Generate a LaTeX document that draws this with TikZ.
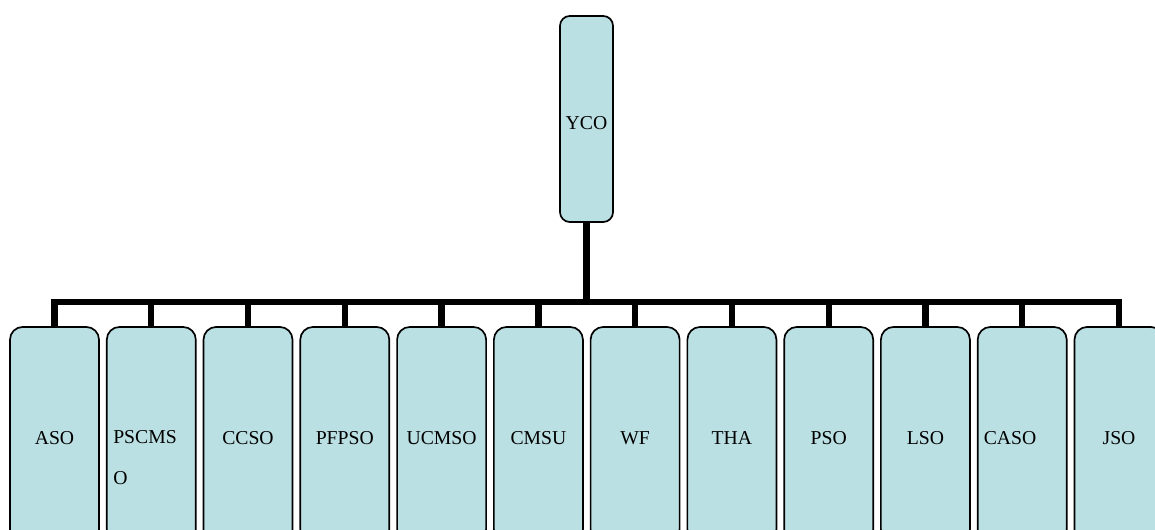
\documentclass[tikz,border=0pt]{standalone}
\usepackage{fontspec}
\setmainfont{Liberation Serif}
\usepackage{xcolor}
\usepackage{tikz}
\usetikzlibrary{positioning}

\definecolor{boxfill}{RGB}{187,224,227}

\begin{document}
\begin{tikzpicture}[x=0.025cm, y=-0.025cm,
    every node/.style={font=\fontsize{14}{29}\selectfont},
    unit/.style={draw, line width=1.2pt, rounded corners=9pt, fill=boxfill,
                 minimum width=2.225cm, minimum height=5.375cm, inner sep=0pt},
    lbl/.style={anchor=base, inner sep=0pt},
    lblw/.style={anchor=base west, inner sep=0pt, align=left},
    link/.style={line width=4.5pt}]
  \useasboundingbox (0,0) rectangle (1155,530);

  % head office
  \node[unit, minimum width=1.325cm, minimum height=5.15cm,
        rounded corners=7pt] (yco) at (586.5,119) {};
  \node[lbl] (yco-t) at (586.5,129.6) {YCO};

  % offices below
  \node[unit] (aso)    at (54.5,434.5)   {};
  \node[unit] (pscmso) at (151.3,434.5)  {};
  \node[unit] (ccso)   at (248.0,434.5)  {};
  \node[unit] (pfpso)  at (344.8,434.5)  {};
  \node[unit] (ucmso)  at (441.6,434.5)  {};
  \node[unit] (cmsu)   at (538.4,434.5)  {};
  \node[unit] (wf)     at (635.1,434.5)  {};
  \node[unit] (tha)    at (731.9,434.5)  {};
  \node[unit] (pso)    at (828.7,434.5)  {};
  \node[unit] (lso)    at (925.4,434.5)  {};
  \node[unit] (caso)   at (1022.2,434.5) {};
  \node[unit] (jso)    at (1119.0,434.5) {};

  \node[lbl]  (aso-t)    at (54.5,444)   {ASO};
  \node[lblw] (pscmso-t) at (113,484.6)  {PSCMS\\O};
  \node[lbl]  (ccso-t)   at (248.0,444)  {CCSO};
  \node[lbl]  (pfpso-t)  at (344.8,444)  {PFPSO};
  \node[lbl]  (ucmso-t)  at (441.6,444)  {UCMSO};
  \node[lbl]  (cmsu-t)   at (538.4,444)  {CMSU};
  \node[lbl]  (wf-t)     at (635.1,444)  {WF};
  \node[lbl]  (tha-t)    at (731.9,444)  {THA};
  \node[lbl]  (pso-t)    at (828.7,444)  {PSO};
  \node[lbl]  (lso-t)    at (925.4,444)  {LSO};
  \node[lblw] (caso-t)   at (983.5,444)  {CASO};
  \node[lbl]  (jso-t)    at (1119.0,444) {JSO};

  % connectors
  \coordinate (hub) at (586.5,302);
  \draw[link] (yco.south) -- (yco.south |- hub);
  \draw[link] (aso.north) |- (hub) -| (jso.north);
  \draw[link] (pscmso.north) -- (pscmso.north |- hub);
  \draw[link] (ccso.north) -- (ccso.north |- hub);
  \draw[link] (pfpso.north) -- (pfpso.north |- hub);
  \draw[link] (ucmso.north) -- (ucmso.north |- hub);
  \draw[link] (cmsu.north) -- (cmsu.north |- hub);
  \draw[link] (wf.north) -- (wf.north |- hub);
  \draw[link] (tha.north) -- (tha.north |- hub);
  \draw[link] (pso.north) -- (pso.north |- hub);
  \draw[link] (lso.north) -- (lso.north |- hub);
  \draw[link] (caso.north) -- (caso.north |- hub);
\end{tikzpicture}
\end{document}
